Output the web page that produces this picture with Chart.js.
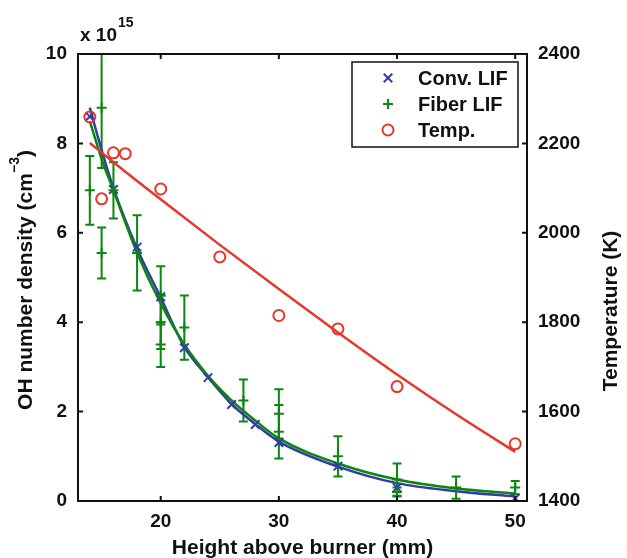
<!DOCTYPE html>
<html>
<head>
<meta charset="utf-8">
<script src="https://cdn.jsdelivr.net/npm/chart.js@4.4.0/dist/chart.umd.min.js"></script>
<style>
  html, body { margin: 0; padding: 0; background: #fff; }
  canvas { display: block; }
</style>
</head>
<body>
<canvas id="chartOH" width="627" height="558"></canvas>
<script>
'use strict';

// Conv. LIF measurements (height in mm, density in 1e15 cm^-3)
const convHeights = [14, 16, 18, 20, 22, 24, 26, 28, 30, 35, 40, 50];
const convDensity = [8.6, 6.97, 5.68, 4.57, 3.43, 2.76, 2.16, 1.71, 1.31, 0.78, 0.3, 0.06];
// Conv. LIF fitted curve
const convFitHeights = [14, 15, 16, 18, 20, 22, 24, 26, 28, 30, 35, 40, 45, 50];
const convFitDensity = [8.8, 7.85, 7.0, 5.65, 4.55, 3.45, 2.77, 2.17, 1.72, 1.33, 0.77, 0.4, 0.22, 0.1];

// Fiber LIF measurements with error bars
const fiberHeights = [14, 15, 15, 16, 18, 20, 20, 20, 22, 27, 30, 30, 35, 40, 40, 45, 50];
const fiberDensity = [6.95, 8.8, 5.55, 6.95, 5.55, 4.6, 4.0, 3.5, 3.88, 2.25, 1.95, 1.55, 1.0, 0.48, 0.2, 0.3, 0.3];
const fiberError = [0.77, 1.35, 0.57, 0.63, 0.84, 0.65, 0.6, 0.5, 0.72, 0.47, 0.55, 0.6, 0.45, 0.36, 0.1, 0.25, 0.15];
// Fiber LIF fitted curve
const fiberFitHeights = [14, 15, 16, 18, 20, 22, 24, 26, 28, 30, 35, 40, 45, 50];
const fiberFitDensity = [8.5, 7.65, 6.95, 5.55, 4.42, 3.5, 2.8, 2.25, 1.8, 1.4, 0.84, 0.48, 0.28, 0.17];

// Temperature (K)
const tempHeights = [14, 15, 16, 17, 20, 25, 30, 35, 40, 50];
const tempValues = [2259, 2076, 2179, 2177, 2098, 1946, 1815, 1785, 1656, 1528];
const tempFitHeights = [14, 16, 18, 20, 25, 30, 35, 40, 45, 50];
const tempFitValues = [2201, 2158, 2116, 2075, 1973, 1874, 1777, 1683, 1594, 1510];

// axis ticks
const xTicks = [20, 30, 40, 50];
const yTicks = [0, 2, 4, 6, 8, 10];
const y2Ticks = [1400, 1600, 1800, 2000, 2200, 2400];

const seriesLabels = ['Conv. LIF', 'Fiber LIF', 'Temp.'];

const BLUE = '#2f3da6';
const GREEN = '#0b870f';
const RED = '#e6372b';
const INK = '#111';
const FONT = '"Liberation Sans", Arial, Helvetica, sans-serif';

const pts = (xs, ys) => xs.map((v, i) => ({ x: v, y: ys[i] }));

const markerStyles = [
  { pointStyle: 'crossRot', radius: 6, borderWidth: 2, color: BLUE },
  { pointStyle: 'cross', radius: 5, borderWidth: 2, color: GREEN },
  { pointStyle: 'circle', radius: 5.5, borderWidth: 2, color: RED }
];

const decorations = {
  id: 'decorations',
  beforeDatasetsDraw(chart) {
    // error bars for the fiber data
    const { ctx, chartArea: a, scales: { x, y } } = chart;
    ctx.save();
    ctx.beginPath();
    ctx.rect(a.left, a.top, a.right - a.left, a.bottom - a.top);
    ctx.clip();
    ctx.strokeStyle = GREEN;
    ctx.lineWidth = 2;
    fiberHeights.forEach((h, i) => {
      const px = x.getPixelForValue(h);
      const top = y.getPixelForValue(fiberDensity[i] + fiberError[i]);
      const bot = y.getPixelForValue(fiberDensity[i] - fiberError[i]);
      ctx.beginPath();
      ctx.moveTo(px, top); ctx.lineTo(px, bot);
      ctx.moveTo(px - 4.5, top); ctx.lineTo(px + 4.5, top);
      ctx.moveTo(px - 4.5, bot); ctx.lineTo(px + 4.5, bot);
      ctx.stroke();
    });
    ctx.restore();
  },
  afterDraw(chart) {
    const { ctx, chartArea: a, scales: { x, y, y2 } } = chart;
    const tick = 5;
    ctx.save();

    // frame
    ctx.strokeStyle = INK;
    ctx.lineWidth = 2;
    ctx.strokeRect(a.left, a.top, a.right - a.left, a.bottom - a.top);

    // inward ticks
    ctx.beginPath();
    x.ticks.forEach(t => {
      const px = x.getPixelForValue(t.value);
      ctx.moveTo(px, a.bottom); ctx.lineTo(px, a.bottom - tick);
      ctx.moveTo(px, a.top); ctx.lineTo(px, a.top + tick);
    });
    y.ticks.forEach(t => {
      const py = y.getPixelForValue(t.value);
      ctx.moveTo(a.left, py); ctx.lineTo(a.left + tick, py);
    });
    y2.ticks.forEach(t => {
      const py = y2.getPixelForValue(t.value);
      ctx.moveTo(a.right, py); ctx.lineTo(a.right - tick, py);
    });
    ctx.stroke();

    // legend
    const lx = 352, ly = 62, lw = 166, lh = 85;
    ctx.fillStyle = '#fff';
    ctx.fillRect(lx, ly, lw, lh);
    ctx.lineWidth = 1.5;
    ctx.strokeStyle = INK;
    ctx.strokeRect(lx, ly, lw, lh);
    ctx.font = 'bold 20px ' + FONT;
    ctx.textBaseline = 'middle';
    seriesLabels.forEach((label, i) => {
      const rowY = 78 + i * 26;
      const m = markerStyles[i];
      ctx.strokeStyle = m.color;
      ctx.fillStyle = '#fff';
      ctx.lineWidth = m.borderWidth;
      Chart.helpers.drawPoint(ctx, {
        pointStyle: m.pointStyle, radius: m.pointStyle === 'circle' ? 5.5 : m.radius,
        borderWidth: m.borderWidth, rotation: 0
      }, 388, rowY);
      ctx.fillStyle = INK;
      ctx.textAlign = 'left';
      ctx.fillText(label, 418, rowY + 1);
    });

    // exponent above the left axis
    ctx.fillStyle = INK;
    ctx.textBaseline = 'alphabetic';
    ctx.textAlign = 'left';
    ctx.font = 'bold 19px ' + FONT;
    ctx.fillText('x 10', 80, 41);
    const expX = 80 + ctx.measureText('x 10').width + 1;
    ctx.font = 'bold 14px ' + FONT;
    ctx.fillText('15', expX, 27);

    // x title
    ctx.font = 'bold 21px ' + FONT;
    ctx.textAlign = 'center';
    ctx.fillText('Height above burner (mm)', (a.left + a.right) / 2, 554);

    // left title with superscript
    ctx.save();
    ctx.translate(32, 280);
    ctx.rotate(-Math.PI / 2);
    const mainText = 'OH number density (cm';
    const supText = '\u22123';
    ctx.font = 'bold 21px ' + FONT;
    const wMain = ctx.measureText(mainText).width;
    const wClose = ctx.measureText(')').width;
    ctx.font = 'bold 14px ' + FONT;
    const wSup = ctx.measureText(supText).width;
    const start = -(wMain + wSup + wClose) / 2;
    ctx.textAlign = 'left';
    ctx.font = 'bold 21px ' + FONT;
    ctx.fillText(mainText, start, 0);
    ctx.font = 'bold 14px ' + FONT;
    ctx.fillText(supText, start + wMain, -13);
    ctx.font = 'bold 21px ' + FONT;
    ctx.fillText(')', start + wMain + wSup, 0);
    ctx.restore();

    // right title
    ctx.save();
    ctx.translate(617, 311);
    ctx.rotate(-Math.PI / 2);
    ctx.textAlign = 'center';
    ctx.font = 'bold 21px ' + FONT;
    ctx.fillText('Temperature (K)', 0, 0);
    ctx.restore();

    ctx.restore();
  }
};

const fixedTicks = values => scale => { scale.ticks = values.map(v => ({ value: v })); };
const plainLabel = v => String(v);

const tickFont = { family: FONT, size: 19, weight: 'bold' };

new Chart(document.getElementById('chartOH'), {
  type: 'line',
  data: {
    datasets: [
      {
        label: seriesLabels[2], data: pts(tempHeights, tempValues), yAxisID: 'y2', order: 0,
        showLine: false, pointStyle: 'circle', pointRadius: 5.5, pointBorderWidth: 2,
        pointBorderColor: RED, pointBackgroundColor: 'rgba(0,0,0,0)', borderColor: RED
      },
      {
        label: seriesLabels[1], data: pts(fiberHeights, fiberDensity), yAxisID: 'y', order: 1,
        showLine: false, pointStyle: 'cross', pointRadius: 5, pointBorderWidth: 2,
        pointBorderColor: GREEN, borderColor: GREEN
      },
      {
        label: seriesLabels[0], data: pts(convHeights, convDensity), yAxisID: 'y', order: 2,
        showLine: false, pointStyle: 'crossRot', pointRadius: 6, pointBorderWidth: 2,
        pointBorderColor: BLUE, borderColor: BLUE
      },
      {
        label: 'Temp. fit', data: pts(tempFitHeights, tempFitValues), yAxisID: 'y2', order: 3,
        borderColor: RED, borderWidth: 2.5, pointRadius: 0, cubicInterpolationMode: 'monotone'
      },
      {
        label: 'Fiber fit', data: pts(fiberFitHeights, fiberFitDensity), yAxisID: 'y', order: 4,
        borderColor: GREEN, borderWidth: 2.5, pointRadius: 0, cubicInterpolationMode: 'monotone'
      },
      {
        label: 'Conv. fit', data: pts(convFitHeights, convFitDensity), yAxisID: 'y', order: 5,
        borderColor: BLUE, borderWidth: 2.5, pointRadius: 0, cubicInterpolationMode: 'monotone'
      }
    ]
  },
  options: {
    responsive: false,
    animation: false,
    events: [],
    layout: { padding: { top: 54, left: 0, right: 0, bottom: 0 } },
    plugins: { legend: { display: false }, tooltip: { enabled: false } },
    scales: {
      x: {
        type: 'linear', min: 13, max: 51,
        grid: { display: false, drawTicks: false }, border: { display: false },
        ticks: { font: tickFont, color: INK, padding: 9, maxRotation: 0, callback: plainLabel },
        afterBuildTicks: fixedTicks(xTicks),
        afterFit(s) { s.height = 57; }
      },
      y: {
        type: 'linear', position: 'left', min: 0, max: 10,
        grid: { display: false, drawTicks: false }, border: { display: false },
        ticks: { font: tickFont, color: INK, padding: 11, callback: plainLabel },
        afterBuildTicks: fixedTicks(yTicks),
        afterFit(s) { s.width = 78; }
      },
      y2: {
        type: 'linear', position: 'right', min: 1400, max: 2400,
        grid: { display: false, drawTicks: false }, border: { display: false },
        ticks: { font: tickFont, color: INK, padding: 11, callback: plainLabel },
        afterBuildTicks: fixedTicks(y2Ticks),
        afterFit(s) { s.width = 100; }
      }
    }
  },
  plugins: [decorations]
});
</script>
</body>
</html>
